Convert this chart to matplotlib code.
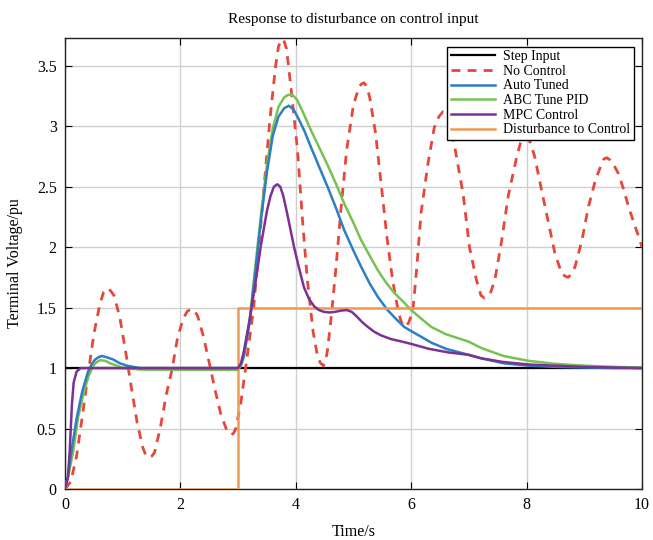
import matplotlib
matplotlib.use("Agg")
import matplotlib.pyplot as plt

# ---- data ----
step_t = [0.0, 10.0]
step_y = [1.0, 1.0]

dist_t = [0.0, 3.0, 3.0, 10.0]
dist_y = [0.0, 0.0, 1.5, 1.5]

nc_t = [0.0, 0.1, 0.2, 0.3, 0.4, 0.5, 0.6, 0.67, 0.73, 0.79, 0.85, 0.95, 1.05, 1.15, 1.25,
        1.35, 1.4, 1.45, 1.5, 1.55, 1.65, 1.75, 1.86, 1.95, 2.05, 2.12, 2.19, 2.25, 2.3,
        2.4, 2.52, 2.6, 2.7, 2.8, 2.84, 2.88, 2.92, 2.96, 3.05, 3.13, 3.2, 3.27, 3.36,
        3.45, 3.55, 3.65, 3.7, 3.75, 3.8, 3.84, 3.92, 4.03, 4.12, 4.2, 4.3, 4.38, 4.43,
        4.48, 4.52, 4.55, 4.62, 4.7, 4.78, 4.88, 5.0, 5.1, 5.14, 5.18, 5.23, 5.28, 5.38,
        5.48, 5.58, 5.68, 5.78, 5.83, 5.88, 5.92, 5.96, 6.03, 6.1, 6.17, 6.29, 6.4, 6.48,
        6.55, 6.61, 6.65, 6.75, 6.9, 7.01, 7.13, 7.21, 7.27, 7.33, 7.38, 7.45, 7.57, 7.68,
        7.83, 7.91, 7.97, 8.02, 8.06, 8.14, 8.26, 8.38, 8.49, 8.61, 8.67, 8.72, 8.78, 8.84,
        8.96, 9.07, 9.19, 9.3, 9.34, 9.39, 9.45, 9.5, 9.59, 9.68, 9.77, 9.86, 9.94, 10.0]
nc_y = [0.0, 0.06, 0.27, 0.6, 0.95, 1.28, 1.52, 1.63, 1.66, 1.64, 1.6, 1.42, 1.14, 0.84, 0.55,
        0.34, 0.28, 0.26, 0.27, 0.3, 0.5, 0.77, 1.0, 1.25, 1.41, 1.47, 1.49, 1.47, 1.43,
        1.26, 1.0, 0.82, 0.62, 0.49, 0.46, 0.45, 0.46, 0.5, 0.72, 1.0, 1.25, 1.5, 2.0,
        2.5, 3.05, 3.5, 3.66, 3.72, 3.7, 3.64, 3.3, 2.8, 2.2, 1.73, 1.3, 1.09, 1.04,
        1.02, 1.07, 1.15, 1.45, 1.85, 2.3, 2.8, 3.18, 3.33, 3.35, 3.36, 3.33, 3.24, 2.95,
        2.52, 2.08, 1.72, 1.46, 1.38, 1.34, 1.35, 1.38, 1.48, 1.85, 2.28, 2.69, 2.99, 3.08,
        3.12, 3.1, 3.06, 2.84, 2.44, 2.0, 1.73, 1.6, 1.58, 1.6, 1.63, 1.73, 2.06, 2.42,
        2.75, 2.89, 2.91, 2.9, 2.87, 2.75, 2.47, 2.2, 1.95, 1.78, 1.76, 1.75, 1.78, 1.84,
        2.06, 2.33, 2.55, 2.69, 2.73, 2.74, 2.72, 2.69, 2.61, 2.48, 2.33, 2.2, 2.09, 2.0]

at_t = [0.0, 0.05, 0.12, 0.2, 0.3, 0.4, 0.46, 0.52, 0.58, 0.64, 0.72, 0.84, 0.95, 1.07, 1.3,
        2.0, 3.0, 3.05, 3.1, 3.2, 3.3, 3.4, 3.5, 3.6, 3.7, 3.8, 3.88, 3.96, 4.05, 4.15,
        4.26, 4.4, 4.55, 4.7, 4.84, 5.0, 5.13, 5.28, 5.42, 5.59, 5.75, 5.88, 6.02, 6.17,
        6.35, 6.6, 6.99, 7.22, 7.6, 8.03, 8.5, 9.0, 9.5, 10.0]
at_y = [0.0, 0.1, 0.34, 0.58, 0.81, 0.97, 1.03, 1.07, 1.09, 1.1, 1.09, 1.07, 1.04, 1.02, 1.0,
        1.0, 1.0, 1.03, 1.1, 1.38, 1.8, 2.24, 2.62, 2.92, 3.08, 3.15, 3.17, 3.14, 3.06, 2.96,
        2.83, 2.67, 2.5, 2.32, 2.14, 1.97, 1.84, 1.7, 1.59, 1.48, 1.4, 1.34, 1.3, 1.26,
        1.21, 1.16, 1.11, 1.08, 1.04, 1.02, 1.01, 1.005, 1.0, 1.0]

abc_t = [0.0, 0.05, 0.145, 0.23, 0.32, 0.405, 0.49, 0.55, 0.61, 0.7, 0.78, 0.9, 1.01, 1.3,
         2.0, 3.0, 3.05, 3.1, 3.2, 3.3, 3.4, 3.5, 3.6, 3.7, 3.8, 3.87, 3.94, 4.02, 4.12,
         4.26, 4.4, 4.55, 4.7, 4.84, 5.0, 5.13, 5.28, 5.42, 5.56, 5.71, 5.86, 6.0, 6.17,
         6.35, 6.6, 6.99, 7.22, 7.6, 8.03, 8.5, 9.0, 9.5, 10.0]
abc_y = [0.0, 0.09, 0.32, 0.6, 0.79, 0.93, 1.02, 1.05, 1.065, 1.06, 1.04, 1.02, 1.0, 0.988,
         0.986, 0.986, 1.02, 1.1, 1.4, 1.85, 2.28, 2.68, 2.98, 3.16, 3.24, 3.26, 3.26, 3.22, 3.12,
         2.97, 2.83, 2.68, 2.52, 2.36, 2.2, 2.06, 1.93, 1.81, 1.71, 1.62, 1.55, 1.48, 1.41,
         1.34, 1.28, 1.22, 1.165, 1.1, 1.06, 1.035, 1.02, 1.01, 1.005]

mpc_t = [0.0, 0.05, 0.08, 0.1, 0.12, 0.15, 0.2, 0.27, 1.0, 2.0, 3.0, 3.05, 3.1, 3.2, 3.3,
         3.39, 3.5, 3.56, 3.62, 3.68, 3.73, 3.78, 3.85, 3.97, 4.06, 4.14, 4.23, 4.32, 4.4,
         4.49, 4.58, 4.68, 4.78, 4.88, 4.97, 5.05, 5.15, 5.25, 5.36, 5.48, 5.65, 5.83, 6.0,
         6.3, 6.64, 6.99, 7.22, 7.6, 8.03, 8.5, 9.0, 9.5, 10.0]
mpc_y = [0.0, 0.1, 0.3, 0.5, 0.7, 0.88, 0.97, 1.0, 1.0, 1.0, 1.0, 1.04, 1.14, 1.4, 1.7,
         2.0, 2.3, 2.42, 2.5, 2.52, 2.5, 2.43, 2.28, 2.0, 1.82, 1.67, 1.57, 1.51, 1.48,
         1.465, 1.46, 1.465, 1.475, 1.48, 1.465, 1.43, 1.38, 1.34, 1.3, 1.27, 1.24, 1.22, 1.2,
         1.16, 1.13, 1.11, 1.08, 1.05, 1.03, 1.02, 1.01, 1.005, 1.0]

labels = ["Step Input", "No Control", "Auto Tuned", "ABC Tune PID",
          "MPC Control", "Disturbance to Control"]
x_ticks = [0, 2, 4, 6, 8, 10]
y_ticks = [0, 0.5, 1, 1.5, 2, 2.5, 3, 3.5]

# ---- drawing ----
plt.rcParams['font.family'] = ['Liberation Serif', 'DejaVu Serif']
fig = plt.figure(figsize=(6.53, 5.40), dpi=100)
ax = fig.add_axes([65/653, (540-489)/540, (642-65)/653, (489-38)/540])

ax.plot(step_t, step_y, color='black', lw=1.6, label=labels[0], zorder=3)
ax.plot(nc_t, nc_y, color='#e5483b', lw=2.0, ls=(0, (3.2, 2.6)), label=labels[1], zorder=4)
ax.plot(at_t, at_y, color='#2f7dc2', lw=1.8, label=labels[2], zorder=5)
ax.plot(abc_t, abc_y, color='#78c152', lw=1.8, label=labels[3], zorder=4.5)
ax.plot(mpc_t, mpc_y, color='#7b3294', lw=1.8, label=labels[4], zorder=6)
ax.plot(dist_t, dist_y, color='#ee9a52', lw=1.8, label=labels[5], zorder=5.5)

ax.set_xlim(0, 10)
ax.set_ylim(0, 3.73)
ax.set_xticks(x_ticks)
ax.set_xticklabels([str(v) for v in x_ticks])
ax.set_yticks(y_ticks)
ax.set_yticklabels(['0', '0.5', '1', '1.5', '2', '2.5', '3', '3.5'])
ax.tick_params(direction='in', top=True, right=True, labelsize=11.5, length=5, pad=6)
ax.grid(True, color='#cfcfcf', lw=1.0)
for s in ax.spines.values():
    s.set_linewidth(1.0)
    s.set_color('#222222')

ax.set_title("Response to disturbance on control input", fontsize=11, pad=11)
ax.set_xlabel("Time/s", fontsize=11.5, labelpad=8)
ax.set_ylabel("Terminal Voltage/pu", fontsize=11.5, labelpad=10)

leg = ax.legend(loc='upper right', bbox_to_anchor=(0.986, 0.981), fontsize=10,
                frameon=True, fancybox=False, edgecolor='black', framealpha=1,
                borderpad=0.25, labelspacing=0.12, handlelength=3.2, handletextpad=0.6,
                borderaxespad=0.0)
leg.get_frame().set_linewidth(1.0)

fig.savefig("out.png", dpi=100)
